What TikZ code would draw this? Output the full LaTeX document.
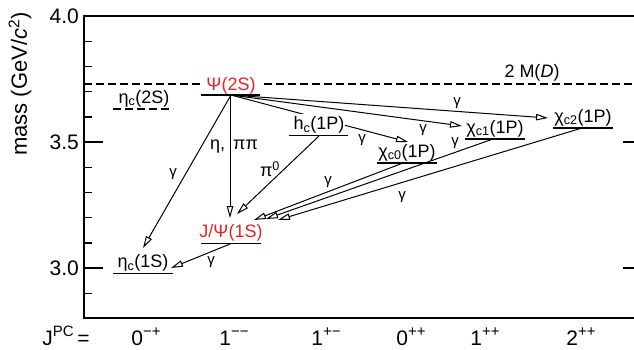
\documentclass[tikz,border=0pt]{standalone}
\usepackage{fontspec}
\setmainfont{Liberation Sans}
\usetikzlibrary{arrows.meta}
\definecolor{lvlred}{RGB}{228,38,42}
\newcommand\jsup[1]{\raisebox{0.42em}{\fontsize{15}{15}\selectfont #1}}
\begin{document}
\begin{tikzpicture}[x=1pt,y=-1pt,
  frame/.style={line width=1.6pt},
  tickl/.style={line width=1.4pt},
  lvl/.style={line width=1.4pt},
  dlvl/.style={line width=1.2pt, dash pattern=on 8pt off 4pt},
  trans/.style={line width=1pt, -{Triangle[open,length=12pt,width=6.5pt]}},
  lab/.style={font=\fontsize{18}{18}\selectfont, inner sep=0pt, anchor=base},
  glab/.style={font=\fontsize{15}{15}\selectfont, inner sep=0pt},
  ticklab/.style={font=\fontsize{21}{21}\selectfont, anchor=east, inner sep=0pt},
  jpc/.style={font=\fontsize{21}{21}\selectfont, anchor=base, inner sep=0pt},
]
\useasboundingbox (0,0) rectangle (634,349);
% frame
\coordinate (TL) at (84,16); \coordinate (BL) at (84,318);
\coordinate (TR) at (634,16); \coordinate (BR) at (634,318);
\draw[frame] (TR) -- (TL) -- (BL) -- (BR);
\foreach \k in {1,2,3,4,6,7,8,9,11} \draw[tickl] (84,16+25.2*\k) -- ++(8,0);
\foreach \y in {16,142,268} {\draw[tickl] (84,\y) -- ++(19,0); \draw[tickl] (634,\y) -- ++(-11,0);}
\node[ticklab] (t40) at (79,16) {4.0};
\node[ticklab] (t35) at (79,142) {3.5};
\node[ticklab] (t30) at (79,268) {3.0};
\node[rotate=90, font=\fontsize{22}{22}\selectfont, inner sep=0pt] (ylab) at (20,84) {mass (GeV/\textit{c}\textsuperscript{2})};
% JPC row
\node[jpc] (jpc) at (66,345) {J\jsup{PC}\,=};
\node[jpc] (q1) at (146,345) {0\jsup{−+}};
\node[jpc] (q2) at (234,345) {1\jsup{−−}};
\node[jpc] (q3) at (326,345) {1\jsup{+−}};
\node[jpc] (q4) at (411,345) {0\jsup{++}};
\node[jpc] (q5) at (485,345) {1\jsup{++}};
\node[jpc] (q6) at (581,345) {2\jsup{++}};
% 2M(D) threshold
\coordinate (DDl) at (84,84); \coordinate (DDr) at (634,84);
\draw[dlvl] (DDl) -- (DDr);
\node[lab, anchor=center] (DD) at (532,73) {2 M(\textit{D})};
% arrow end points
\coordinate (psi2) at (231,95);
\coordinate (psi2v) at (230,95);
\coordinate (hcs) at (319,136);
\coordinate (c0s) at (403,163);
\coordinate (c1s) at (493,139);
\coordinate (c2s) at (582,128);
\coordinate (jps) at (230,244);
\coordinate (e1t) at (143,248);
\coordinate (jvt) at (230,218);
\coordinate (jpt) at (237,214);
\coordinate (c0t) at (408,142);
\coordinate (c1t) at (462,126);
\coordinate (c2t) at (548,118);
\coordinate (j0t) at (254,220);
\coordinate (j1t) at (266,219);
\coordinate (j2t) at (278,220);
\coordinate (e1g) at (171,268);
% transitions
\draw[trans] (psi2) -- (e1t);
\draw[trans] (psi2v) -- (jvt);
\draw[trans] (hcs) -- (jpt);
\draw[trans] (psi2) -- (c0t);
\draw[trans] (psi2) -- (c1t);
\draw[trans] (psi2) -- (c2t);
\draw[trans] (c0s) -- (j0t);
\draw[trans] (c1s) -- (j1t);
\draw[trans] (c2s) -- (j2t);
\draw[trans] (jps) -- (e1g);
% transition labels
\node[glab] (g1) at (173,174) {γ};
\node[lab, anchor=center] (etapp) at (234,147) {η,\ \,ππ};
\node[lab, anchor=center] (pi0) at (270,169) {π\textsuperscript{0}};
\node[glab] (g4) at (362,140) {γ};
\node[glab] (g5) at (423,130) {γ};
\node[glab] (g6) at (457,103) {γ};
\node[glab] (g7) at (328,182) {γ};
\node[glab] (g8) at (455,143) {γ};
\node[glab] (g9) at (402,197) {γ};
\node[glab] (g10) at (211,262) {γ};
% level labels
\node[lab, text=lvlred, fill=white, inner xsep=5pt, inner ysep=1pt] (Lpsi2) at (231,90) {Ψ(2S)};
\node[lab] (Le2) at (144,103) {η\textsubscript{c}(2S)};
\node[lab, fill=white, inner xsep=1pt, inner ysep=2pt] (Lhc) at (319,129.5) {h\textsubscript{c}(1P)};
\node[lab] (Lc0) at (407,157) {χ\textsubscript{c0}(1P)};
\node[lab] (Lc1) at (495,133) {χ\textsubscript{c1}(1P)};
\node[lab] (Lc2) at (583,122) {χ\textsubscript{c2}(1P)};
\node[lab, text=lvlred] (Ljp) at (231,237) {J/Ψ(1S)};
\node[lab] (Le1) at (143,267.5) {η\textsubscript{c}(1S)};
% levels
\draw[lvl] (201,95) -- (260,95);
\draw[dlvl] (113,109) -- (173,109);
\draw[lvl] (289,135.7) -- (348,135.7);
\draw[lvl] (377,163) -- (437,163);
\draw[lvl] (465,139) -- (525,139);
\draw[lvl] (553,128) -- (613,128);
\draw[lvl] (201,243.5) -- (261,243.5);
\draw[lvl] (113,273.5) -- (173,273.5);
\end{tikzpicture}
\end{document}
